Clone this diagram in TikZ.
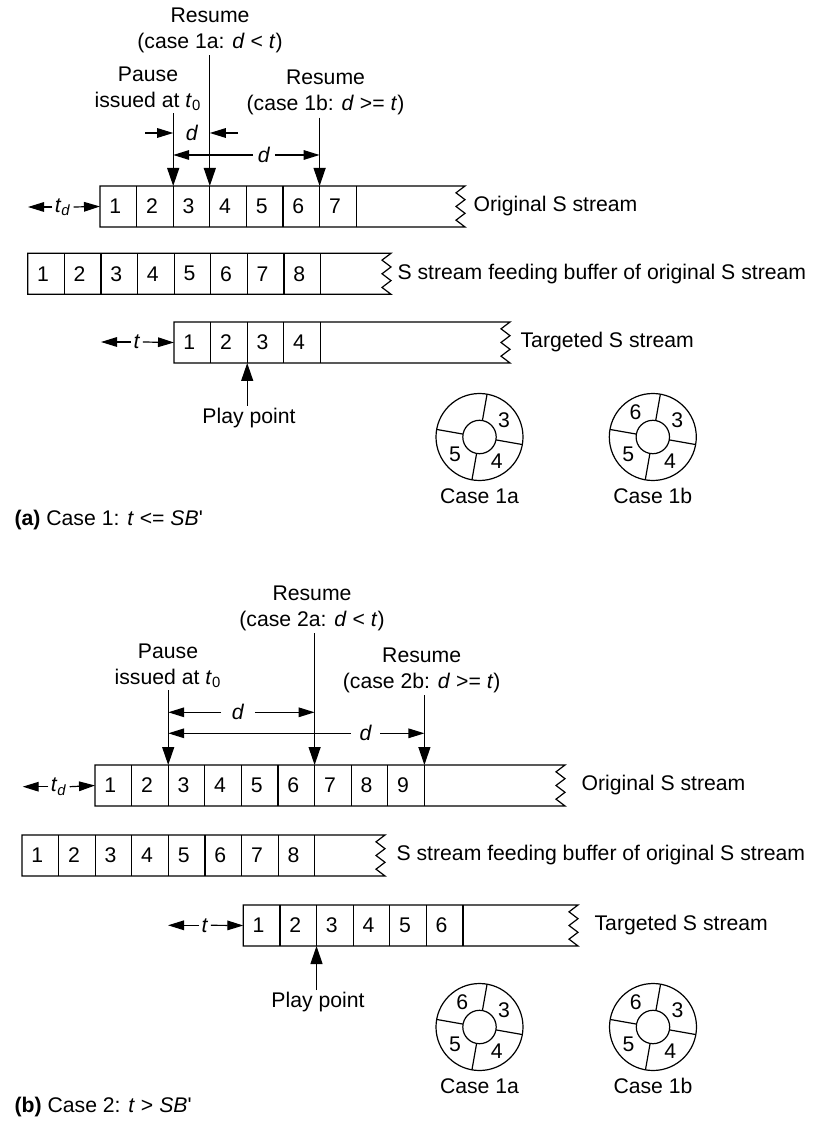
\documentclass[tikz,border=0pt]{standalone}
\usepackage{fontspec}
\setmainfont{Liberation Sans}
\usetikzlibrary{arrows.meta}

\begin{document}
\begin{tikzpicture}[x=0.5pt,y=-0.5pt,line width=0.6pt,
   font=\fontsize{10.6}{13}\selectfont,
   lbl/.style={inner sep=1pt,align=center},
   num/.style={inner sep=0pt},
   arr/.style={-{Triangle[length=9pt,width=6pt]}},
   harr/.style={-{Triangle[length=8pt,width=4.8pt]}}]
\useasboundingbox (0,0) rectangle (823,1127);
% stream row: x0, top, cells, zigzag x, label x, name, label
\newcommand{\strm}[7]{
  \draw (#1,#2) -- (#4,#2) -- ++(-9,6.83) -- ++(9,6.83) -- ++(-9,6.83) -- ++(9,6.83)
     -- ++(-9,6.83) -- ++(9,6.83) -- (#1,#2+41) -- cycle;
  \coordinate (#6-in) at (#1,#2+20.5);
  \foreach \n [count=\k] in {#3}{
     \draw (#1+\k*36.6,#2) -- ++(0,41);
     \coordinate (#6-t\k) at (#1+\k*36.6,#2);
     \coordinate (#6-b\k) at (#1+\k*36.6,#2+41);
     \node[num] (#6-\k) at (#1+\k*36.6-21.3,#2+20.5) {\n};}
  \node[lbl,anchor=west] (#6) at (#5,#2+20.5) {#7};}
% buffer ring: name, x, y, angle/number, caption
\newcommand{\ring}[5]{
  \coordinate (#1) at (#2,#3);
  \draw (#1) circle[radius=43.5] (#1) circle[radius=16.7];
  \foreach \a in {80,170,260,350}
     \draw ([shift={(-\a:16.7)}]#1) -- ([shift={(-\a:43.5)}]#1);
  \foreach \a/\n in {#4}
     \node[num] at ([shift={(-\a:30)}]#1) {\n};
  \node[lbl] (#1-cap) at (#2,#3+59) {#5};}

% (a) case 1
\strm{100}{186}{1,...,7}{465}{471}{origA}{Original S stream}
\strm{27.7}{253.3}{1,...,8}{391}{395}{feedA}{S stream feeding buffer of original S stream}
\strm{174}{322}{1,...,4}{510}{518}{targA}{Targeted S stream}

\node[lbl] (resA1) at (210,30) {Resume\\(case 1a: \textit{d} < \textit{t})};
\node[lbl] (pauseA) at (148,88.5) {Pause\\issued at \textit{t}\textsubscript{0}};
\node[lbl] (resA2) at (325.5,92.5) {Resume\\(case 1b: \textit{d} >= \textit{t})};
\draw[arr] (resA1.south -| origA-t3) -- (origA-t3);
\draw[arr] (pauseA.south -| origA-t2) -- (origA-t2);
\draw[arr] (resA2.south -| origA-t6) -- (origA-t6);

\node[lbl] (dA1) at (192,133) {\textit{d}};
\coordinate (dA1l) at (145,133);
\coordinate (dA1r) at (238,133);
\draw[harr] (dA1l) -- (dA1l -| origA-t2);
\draw[harr] (dA1r) -- (dA1r -| origA-t3);
\node[lbl,inner xsep=2pt] (dA2) at (264,155) {\textit{d}};
\draw[harr] (dA2.west) -- (dA2.west -| origA-t2);
\draw[harr] (dA2.east) -- (dA2.east -| origA-t6);

\node[lbl] (tdA) at (63,207) {\textit{t}\textsubscript{\textit{d}}};
\coordinate (tdAl) at (28,207);
\draw[harr] (tdA.west) -- (tdAl);
\draw[harr] (tdA.east) -- (origA-in);
\node[lbl] (tA) at (137,342) {\textit{t}};
\coordinate (tAl) at (101,342);
\draw[harr] (tA.west) -- (tAl);
\draw[harr] (tA.east) -- (targA-in);

\node[lbl,anchor=north] (playA) at (249,406) {Play point};
\draw[arr] (playA.north -| targA-b2) -- (targA-b2);

\ring{rgA1}{479.5}{437}{35/3,215/5,305/4}{Case 1a}
\ring{rgA2}{652.8}{437}{125/6,35/3,215/5,305/4}{Case 1b}
\node[lbl,anchor=west] (capA) at (12,520) {\textbf{(a)} Case 1: \textit{t} <= \textit{SB}\textquotesingle};

% (b) case 2
\strm{95}{765}{1,...,9}{565}{579}{origB}{Original S stream}
\strm{22}{835}{1,...,8}{385}{394}{feedB}{S stream feeding buffer of original S stream}
\strm{243.3}{905}{1,...,6}{578}{592}{targB}{Targeted S stream}

\node[lbl] (resB1) at (312,608) {Resume\\(case 2a: \textit{d} < \textit{t})};
\node[lbl] (pauseB) at (168,665.5) {Pause\\issued at \textit{t}\textsubscript{0}};
\node[lbl] (resB2) at (421.7,670) {Resume\\(case 2b: \textit{d} >= \textit{t})};
\draw[arr] (resB1.south -| origB-t6) -- (origB-t6);
\draw[arr] (pauseB.south -| origB-t2) -- (origB-t2);
\draw[arr] (resB2.south -| origB-t9) -- (origB-t9);

\node[lbl,inner xsep=5pt] (dB1) at (238,712.3) {\textit{d}};
\draw[harr] (dB1.west) -- (dB1.west -| origB-t2);
\draw[harr] (dB1.east) -- (dB1.east -| origB-t6);
\node[lbl,inner xsep=4pt] (dB2) at (365.7,733.3) {\textit{d}};
\draw[harr] (dB2.west) -- (dB2.west -| origB-t2);
\draw[harr] (dB2.east) -- (dB2.east -| origB-t9);

\node[lbl] (tdB) at (59,786.7) {\textit{t}\textsubscript{\textit{d}}};
\coordinate (tdBl) at (22.7,786.7);
\draw[harr] (tdB.west) -- (tdBl);
\draw[harr] (tdB.east) -- (origB-in);
\node[lbl] (tB) at (205,925.3) {\textit{t}};
\coordinate (tBl) at (168,925.3);
\draw[harr] (tB.west) -- (tBl);
\draw[harr] (tB.east) -- (targB-in);

\node[lbl,anchor=north] (playB) at (318,990) {Play point};
\draw[arr] (playB.north -| targB-b2) -- (targB-b2);

\ring{rgB1}{479.5}{1027}{125/6,35/3,215/5,305/4}{Case 1a}
\ring{rgB2}{653}{1027}{125/6,35/3,215/5,305/4}{Case 1b}
\node[lbl,anchor=west] (capB) at (12,1107) {\textbf{(b)} Case 2: \textit{t} > \textit{SB}\textquotesingle};
\end{tikzpicture}
\end{document}
